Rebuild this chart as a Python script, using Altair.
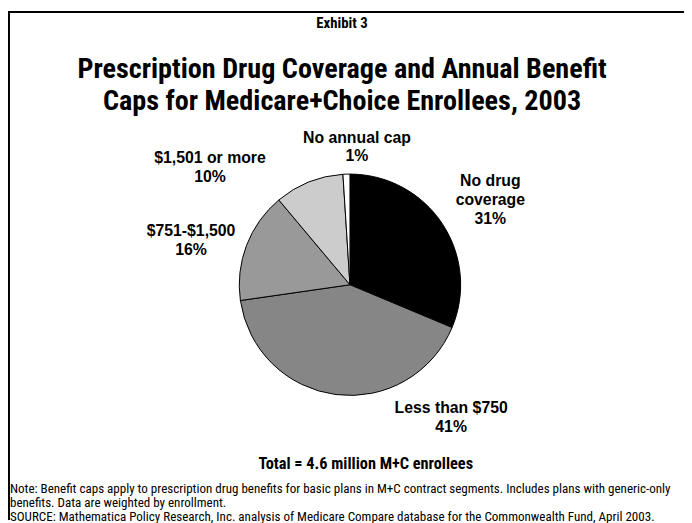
import altair as alt
import pandas as pd

# ---- data ----
categories = ["No drug coverage", "Less than $750", "$751-$1,500", "$1,501 or more", "No annual cap"]
values = [31, 41, 16, 10, 1]
label_names = ["No drug\ncoverage", "Less than $750", "$751-$1,500", "$1,501 or more", "No annual cap"]
colors = ["#000000", "#868686", "#999999", "#cccccc", "#ffffff"]

exhibit_text = "Exhibit 3"
title_lines = ["Prescription Drug Coverage and Annual Benefit",
               "Caps for Medicare+Choice Enrollees, 2003"]
total_text = "Total = 4.6 million M+C enrollees"
note_lines = [
    "Note: Benefit caps apply to prescription drug benefits for basic plans in M+C contract segments. Includes plans with generic-only",
    "benefits. Data are weighted by enrollment.",
    "SOURCE: Mathematica Policy Research, Inc. analysis of Medicare Compare database for the Commonwealth Fund, April 2003.",
]

# ---- layout / style ----
W, H = 684, 515
CX, CY = 346, 277
R = 112
SANS = "Liberation Sans, Arial, sans-serif"
NARROW = "Roboto Condensed, DejaVu Sans Condensed, Liberation Sans, sans-serif"
label_offsets = {  # (dx, dy) nudges from polar label position (first line)
    "No drug coverage": (13, -19),
    "Less than $750": (122, -29),
    "$751-$1,500": (-16, 1),
    "$1,501 or more": (-84, 16),
    "No annual cap": (12, 6),
}

df = pd.DataFrame({
    "category": categories,
    "value": values,
    "order": list(range(len(categories))),
    "label": [f"{n}\n{v}%" for n, v in zip(label_names, values)],
})

total_value = sum(values)
theta_scale = alt.Scale(domain=[0, total_value], range=[0, 6.283185307179586])

base = alt.Chart(df).transform_stack(
    stack="value", as_=["v0", "v1"], groupby=[], sort=[alt.SortField("order")]
).transform_calculate(mid="(datum.v0 + datum.v1) / 2").encode(
    x=alt.value(CX),
    y=alt.value(CY),
)

pie = base.mark_arc(outerRadius=R, stroke="black", strokeWidth=1).encode(
    theta=alt.Theta("v0:Q", scale=theta_scale),
    theta2="v1:Q",
    color=alt.Color("category:N", scale=alt.Scale(domain=categories, range=colors), legend=None),
)

label_layers = []
for cat in categories:
    dx, dy = label_offsets[cat]
    label_layers.append(
        base.transform_filter(alt.datum.category == cat)
        .mark_text(radius=155, dx=dx, dy=dy, font=SANS, fontSize=16, fontWeight="bold",
                   lineBreak="\n", lineHeight=19, align="center", baseline="middle", color="black")
        .encode(text="label:N", theta=alt.Theta("mid:Q", scale=theta_scale))
    )


def text_layer(txt, x, y, **kw):
    return alt.Chart(pd.DataFrame({"t": [txt]})).mark_text(**kw).encode(
        text="t:N", x=alt.value(x), y=alt.value(y))


exhibit = text_layer(exhibit_text, 338, 17, font=NARROW, fontSize=15, fontWeight="bold",
                     align="center", baseline="alphabetic", color="black")
title = text_layer("\n".join(title_lines), 338, 68, font=NARROW, fontSize=28.5, fontWeight="bold",
                   lineBreak="\n", lineHeight=32, align="center", baseline="alphabetic", color="black")
total = text_layer(total_text, 362, 463, font=NARROW, fontSize=16.5, fontWeight="bold",
                   align="center", baseline="alphabetic", color="black")
notes = text_layer("\n".join(note_lines), 2, 488, font=NARROW, fontSize=13.2,
                   lineBreak="\n", lineHeight=14, align="left", baseline="alphabetic", color="black")

border_top = alt.Chart(pd.DataFrame({"a": [0]})).mark_rule(color="black", strokeWidth=2).encode(
    x=alt.value(0), x2=alt.value(W), y=alt.value(1))
border_left = alt.Chart(pd.DataFrame({"a": [0]})).mark_rule(color="black", strokeWidth=2).encode(
    x=alt.value(1), y=alt.value(0), y2=alt.value(H))

chart = alt.layer(pie, *label_layers, exhibit, title, total, notes, border_top, border_left).properties(
    width=W, height=H, autosize=alt.AutoSizeParams(type="none"), padding=0,
).configure_view(stroke=None)

chart.save("out.html", embed_options={"renderer": "svg", "actions": False})
